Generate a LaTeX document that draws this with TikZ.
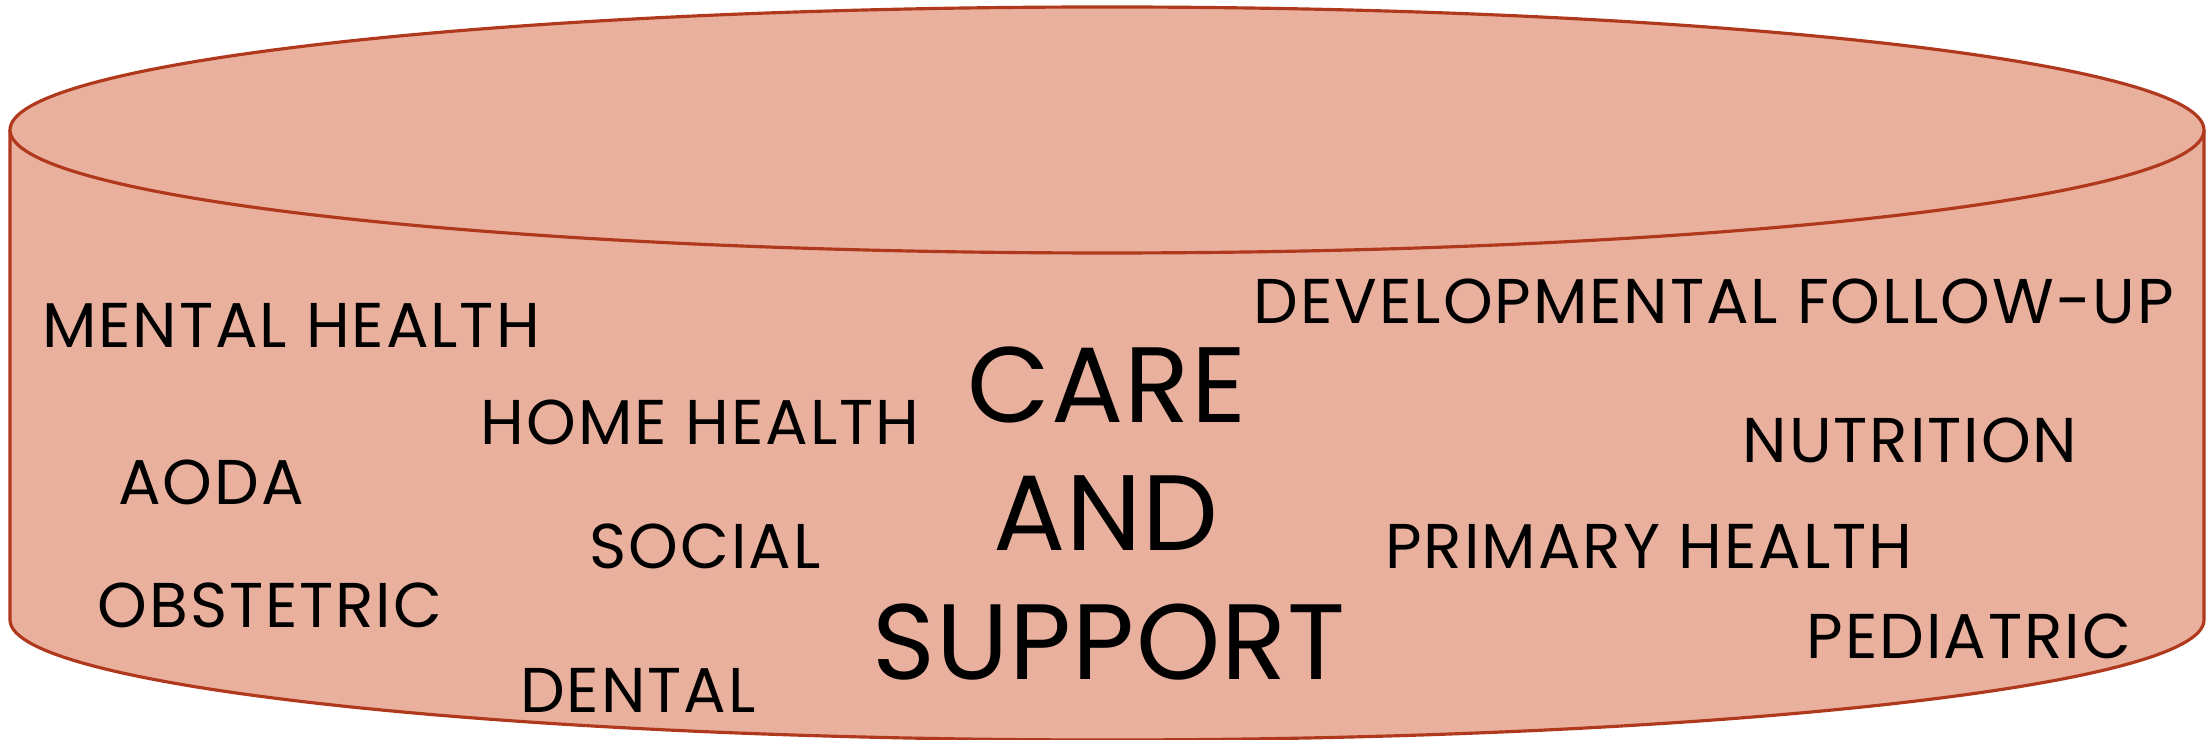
\documentclass[tikz,border=0pt]{standalone}
\usepackage{fontspec}
\setmainfont{Poppins}
\usepackage{tikz}

\definecolor{cylfill}{RGB}{233,176,158}
\definecolor{cyledge}{RGB}{176,56,28}

\begin{document}
\begin{tikzpicture}[
	cyl/.style={draw=cyledge, fill=cylfill, line width=0.9pt},
	word/.style={anchor=base, inner sep=0pt, font=\fontsize{18}{20}\selectfont\addfontfeature{LetterSpace=3}},
	bigword/.style={anchor=base, inner sep=0pt, font=\fontsize{30.5}{32}\selectfont\addfontfeature{LetterSpace=1}}]
	\useasboundingbox (0,0) rectangle (22.11,7.40);
	
	%CYLINDRE
	\draw[cyl] (0.10,6.10) -- (0.10,1.20) arc[start angle=180, end angle=360, x radius=10.97, y radius=1.20] -- (22.04,6.10);
	\draw[cyl] (11.07,6.10) ellipse[x radius=10.97, y radius=1.23];
	
	%CENTRE
	\node[bigword] (care) at (11.07,3.17) {CARE};
	\node[bigword] (and) at (11.06,1.89) {AND};
	\node[bigword] (support) at (11.09,0.60) {SUPPORT};
	
	%GAUCHE
	\node[word] (mental) at (2.91,3.92) {MENTAL HEALTH};
	\node[word] (home) at (7.00,2.95) {HOME HEALTH};
	\node[word] (aoda) at (2.11,2.35) {AODA};
	\node[word] (social) at (7.05,1.71) {SOCIAL};
	\node[word] (obstetric) at (2.70,1.12) {OBSTETRIC};
	\node[word] (dental) at (6.38,0.27) {DENTAL};
	
	%DROITE
	\node[word] (devel) at (17.14,4.16) {DEVELOPMENTAL FOLLOW-UP};
	\node[word] (nutrition) at (19.10,2.77) {NUTRITION};
	\node[word] (primary) at (16.49,1.71) {PRIMARY HEALTH};
	\node[word] (pediatric) at (19.69,0.81) {PEDIATRIC};
	
\end{tikzpicture}
\end{document}
